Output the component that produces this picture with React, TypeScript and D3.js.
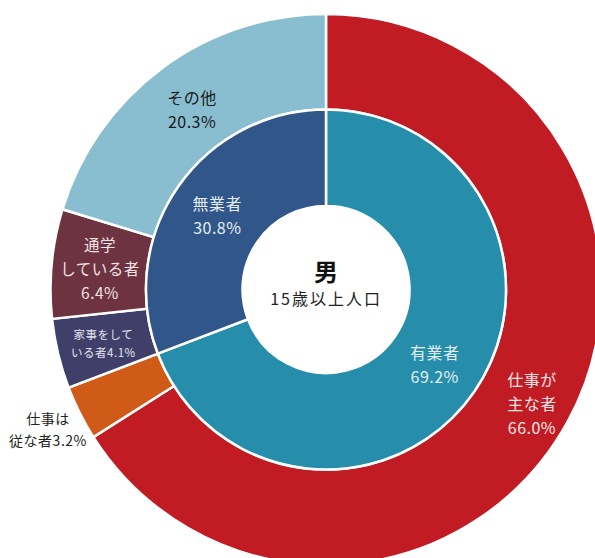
import React from 'react'
import * as d3 from 'd3'

// inner ring: employment status
const innerNames = ['有業者', '無業者']
const innerValues = [69.2, 30.8]
const innerColors = ['#268eaa', '#31578a']

// outer ring: breakdown
const outerNames = ['仕事が主な者', '仕事は従な者', '家事をしている者', '通学している者', 'その他']
const outerValues = [66.0, 3.2, 4.1, 6.4, 20.3]
const outerColors = ['#c11b24', '#d05a17', '#3f3f69', '#6d3340', '#89bdd0']

// label lines per slice (text only)
const innerLabels = [['有業者', '69.2%'], ['無業者', '30.8%']]
const outerLabels = [
  ['仕事が', '主な者', '66.0%'],
  ['仕事は', '従な者3.2%'],
  ['家事をして', 'いる者4.1%'],
  ['通学', 'している者', '6.4%'],
  ['その他', '20.3%'],
]
const outerLabelStyle = [
  { r: 235, size: 16, color: '#f6e4e4', lh: 24 },
  { r: 311, size: 14, color: '#222', lh: 22 },
  { r: 229, size: 11.5, color: '#e4e4f0', lh: 18 },
  { r: 227, size: 15.5, color: '#f1e2e4', lh: 24 },
  { r: 225, size: 16, color: '#1a1a1a', lh: 24 },
]

const W = 595
const H = 558
const cx = 326
const cy = 289.5
const rHole = 83.5
const rMid = 180
const rOuter = 275.5

const font = '"Noto Sans CJK JP", "Noto Sans", sans-serif'

const App = () => {
  const pie = d3.pie<number>().value((d) => d).sort(null)
  const innerArcs = pie(innerValues)
  const outerArcs = pie(outerValues)
  const innerArc = d3.arc<d3.PieArcDatum<number>>().innerRadius(rHole).outerRadius(rMid)
  const outerArc = d3.arc<d3.PieArcDatum<number>>().innerRadius(rMid).outerRadius(rOuter)

  const pos = (d: d3.PieArcDatum<number>, r: number) => {
    const a = (d.startAngle + d.endAngle) / 2
    return [r * Math.sin(a), -r * Math.cos(a)]
  }

  const lines = (txt: string[], x: number, y: number, size: number, lh: number, color: string, key: string) => {
    const y0 = y - ((txt.length - 1) * lh) / 2
    return (
      <text key={key} x={x} y={y0} fill={color} fontSize={size} textAnchor="middle" dominantBaseline="central" fontFamily={font} letterSpacing="0.5">
        {txt.map((t, i) => (
          <tspan key={i} x={x} y={y0 + i * lh}>{t}</tspan>
        ))}
      </text>
    )
  }

  return (
    <svg width={W} height={H} style={{ position: 'absolute', left: 0, top: 0, background: '#fff' }}>
      <g transform={`translate(${cx},${cy})`}>
        {outerArcs.map((d, i) => (
          <path key={'o' + i} d={outerArc(d) || ''} fill={outerColors[i]} stroke="#fff" strokeWidth={2.5} />
        ))}
        {innerArcs.map((d, i) => (
          <path key={'i' + i} d={innerArc(d) || ''} fill={innerColors[i]} stroke="#fff" strokeWidth={2.5} />
        ))}
        {innerArcs.map((d, i) => {
          const [x, y] = pos(d, 132)
          return lines(innerLabels[i], x, y, 16, 24, '#e3edf3', 'il' + i)
        })}
        {outerArcs.map((d, i) => {
          const s = outerLabelStyle[i]
          const [x, y] = pos(d, s.r)
          return lines(outerLabels[i], x, y, s.size, s.lh, s.color, 'ol' + i)
        })}
        <text y={-19} textAnchor="middle" dominantBaseline="central" fontSize={24} fontWeight="bold" fontFamily={font} fill="#111">
          男
        </text>
        <text y={8} textAnchor="middle" dominantBaseline="central" fontSize={16} fontFamily={font} fill="#222" letterSpacing="2">
          15歳以上人口
        </text>
      </g>
    </svg>
  )
}

export default App
